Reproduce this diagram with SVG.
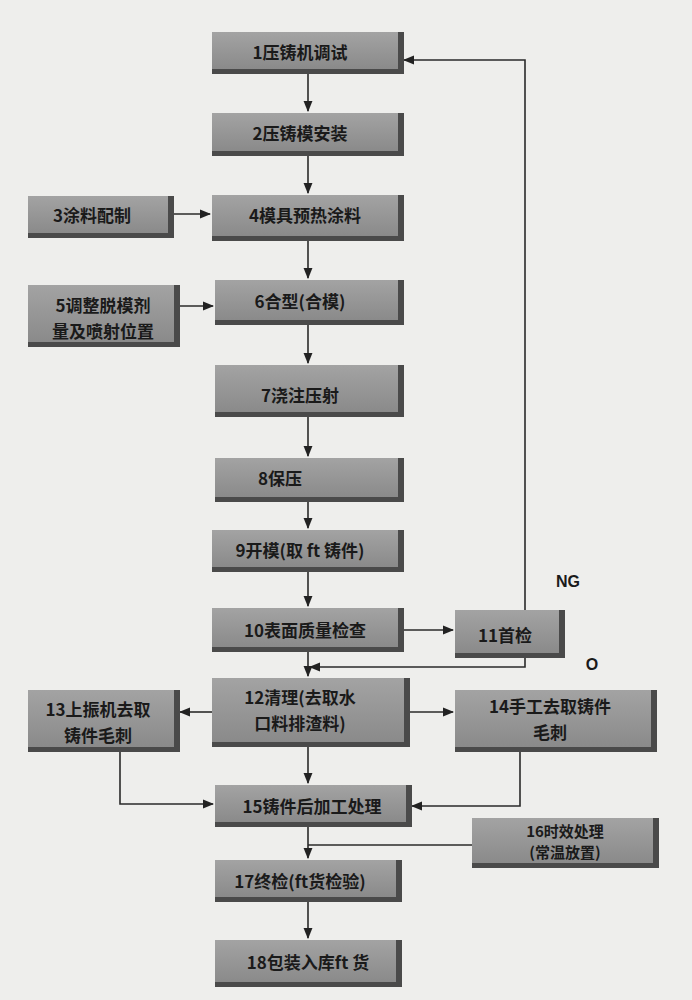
<svg xmlns="http://www.w3.org/2000/svg" width="692" height="1000" viewBox="0 0 692 1000">
<defs>
<marker id="ah" viewBox="0 0 10 10" refX="9" refY="5" markerWidth="7" markerHeight="7" orient="auto"><path d="M0,1 L10,5 L0,9 z" fill="#222"/></marker>
<linearGradient id="g" x1="0" y1="0" x2="0" y2="1"><stop offset="0" stop-color="#a3a3a3"/><stop offset="1" stop-color="#8a8a8a"/></linearGradient>
</defs>
<style>
.sh{fill:#4a4a4a}
.bx{fill:url(#g)}
text{font-family:"Noto Sans CJK SC","Liberation Sans",sans-serif;font-size:17px;font-weight:bold;fill:#1a1a1a;text-anchor:middle;dominant-baseline:central}
.c{fill:none;stroke:#2a2a2a;stroke-width:1.6}
</style>
<rect width="692" height="1000" fill="#eeeeec"/>
<g id="connectors">
<line class="c" x1="308" y1="72" x2="308" y2="111" marker-end="url(#ah)"/>
<line class="c" x1="308" y1="155" x2="308" y2="193" marker-end="url(#ah)"/>
<line class="c" x1="172" y1="214" x2="210" y2="214" marker-end="url(#ah)"/>
<line class="c" x1="308" y1="240" x2="308" y2="278" marker-end="url(#ah)"/>
<line class="c" x1="178" y1="306" x2="213" y2="306" marker-end="url(#ah)"/>
<line class="c" x1="308" y1="323" x2="308" y2="363" marker-end="url(#ah)"/>
<line class="c" x1="308" y1="415" x2="308" y2="456" marker-end="url(#ah)"/>
<line class="c" x1="308" y1="500" x2="308" y2="528" marker-end="url(#ah)"/>
<line class="c" x1="308" y1="570" x2="308" y2="606" marker-end="url(#ah)"/>
<line class="c" x1="402" y1="630" x2="453" y2="630" marker-end="url(#ah)"/>
<polyline class="c" points="525,610 525,60 404,60" marker-end="url(#ah)"/>
<polyline class="c" points="525,656 525,667 310,667" marker-end="url(#ah)"/>
<line class="c" x1="308" y1="650" x2="308" y2="676" marker-end="url(#ah)"/>
<line class="c" x1="212" y1="712" x2="180" y2="712" marker-end="url(#ah)"/>
<line class="c" x1="408" y1="712" x2="453" y2="712" marker-end="url(#ah)"/>
<line class="c" x1="308" y1="745" x2="308" y2="783" marker-end="url(#ah)"/>
<polyline class="c" points="120,750 120,804 213,804" marker-end="url(#ah)"/>
<polyline class="c" points="520,750 520,806 412,806" marker-end="url(#ah)"/>
<line class="c" x1="308" y1="825" x2="308" y2="858" marker-end="url(#ah)"/>
<line class="c" x1="472" y1="845" x2="308" y2="845"/>
<line class="c" x1="308" y1="900" x2="308" y2="938" marker-end="url(#ah)"/>
</g>
<g id="n1"><rect class="sh" x="212" y="32" width="192" height="42"/><rect class="bx" x="212" y="32" width="186" height="37"/><text x="300" y="51">1压铸机调试</text></g>
<g id="n2"><rect class="sh" x="212" y="113" width="192" height="43"/><rect class="bx" x="212" y="113" width="186" height="38"/><text x="300" y="132">2压铸模安装</text></g>
<g id="n3"><rect class="sh" x="28" y="196" width="146" height="42"/><rect class="bx" x="28" y="196" width="140" height="37"/><text x="92" y="214">3涂料配制</text></g>
<g id="n4"><rect class="sh" x="212" y="195" width="192" height="46"/><rect class="bx" x="212" y="195" width="186" height="41"/><text x="305" y="214">4模具预热涂料</text></g>
<g id="n5"><rect class="sh" x="28" y="285" width="152" height="62"/><rect class="bx" x="28" y="285" width="146" height="57"/><text x="103" y="304">5调整脱模剂</text><text x="103" y="330">量及喷射位置</text></g>
<g id="n6"><rect class="sh" x="215" y="280" width="189" height="45"/><rect class="bx" x="215" y="280" width="183" height="40"/><text x="300" y="300">6合型(合模)</text></g>
<g id="n7"><rect class="sh" x="215" y="365" width="189" height="52"/><rect class="bx" x="215" y="365" width="183" height="47"/><text x="300" y="394">7浇注压射</text></g>
<g id="n8"><rect class="sh" x="215" y="458" width="189" height="44"/><rect class="bx" x="215" y="458" width="183" height="39"/><text x="280" y="477">8保压</text></g>
<g id="n9"><rect class="sh" x="212" y="530" width="192" height="42"/><rect class="bx" x="212" y="530" width="186" height="37"/><text x="300" y="549">9开模(取 ft 铸件)</text></g>
<g id="n10"><rect class="sh" x="212" y="608" width="192" height="44"/><rect class="bx" x="212" y="608" width="186" height="39"/><text x="305" y="629">10表面质量检查</text></g>
<g id="n11"><rect class="sh" x="455" y="610" width="110" height="48"/><rect class="bx" x="455" y="610" width="104" height="43"/><text x="505" y="634">11首检</text></g>
<g id="n12"><rect class="sh" x="212" y="678" width="198" height="69"/><rect class="bx" x="212" y="678" width="192" height="64"/><text x="300" y="696">12清理(去取水</text><text x="300" y="722">口料排渣料)</text></g>
<g id="n13"><rect class="sh" x="28" y="690" width="152" height="62"/><rect class="bx" x="28" y="690" width="146" height="57"/><text x="98" y="708">13上振机去取</text><text x="98" y="734">铸件毛刺</text></g>
<g id="n14"><rect class="sh" x="455" y="690" width="202" height="62"/><rect class="bx" x="455" y="690" width="196" height="57"/><text x="550" y="705">14手工去取铸件</text><text x="550" y="731">毛刺</text></g>
<g id="n15"><rect class="sh" x="215" y="785" width="197" height="42"/><rect class="bx" x="215" y="785" width="191" height="37"/><text x="312" y="805">15铸件后加工处理</text></g>
<g id="n16"><rect class="sh" x="472" y="818" width="187" height="50"/><rect class="bx" x="472" y="818" width="181" height="45"/><text x="565" y="830" style="font-size:15px">16时效处理</text><text x="565" y="851" style="font-size:15px">(常温放置)</text></g>
<g id="n17"><rect class="sh" x="215" y="860" width="187" height="42"/><rect class="bx" x="215" y="860" width="181" height="37"/><text x="300" y="880">17终检(ft货检验)</text></g>
<g id="n18"><rect class="sh" x="215" y="940" width="187" height="47"/><rect class="bx" x="215" y="940" width="181" height="42"/><text x="308" y="961">18包装入库ft 货</text></g>
<text x="568" y="581" style="font-family:'Liberation Sans',sans-serif;font-size:16px">NG</text>
<text x="592" y="664" style="font-family:'Liberation Sans',sans-serif;font-size:16px">O</text>
</svg>
